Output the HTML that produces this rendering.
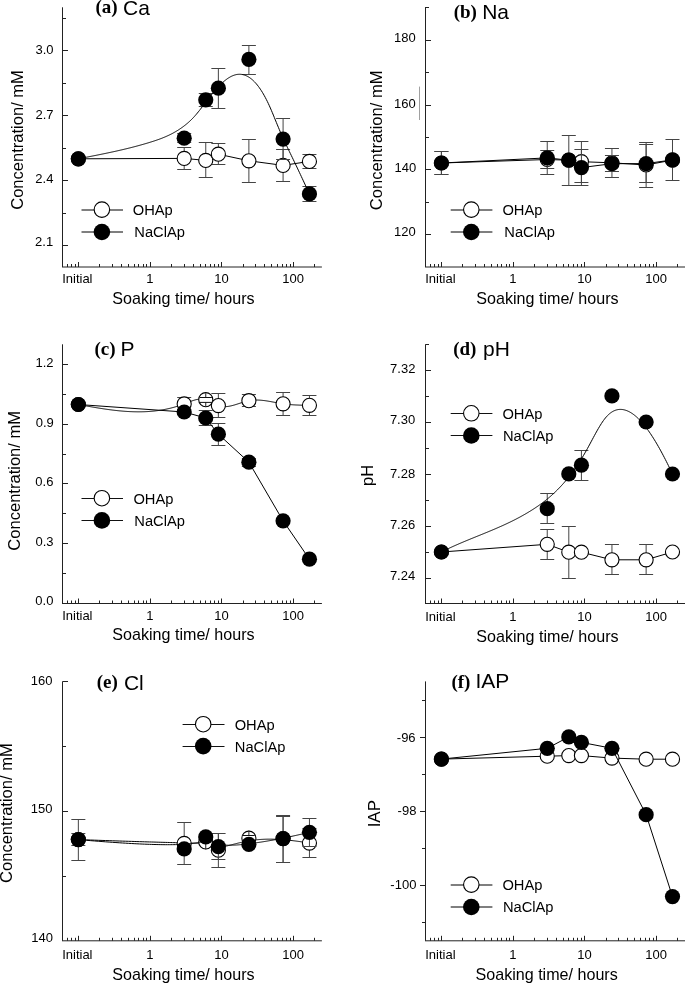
<!DOCTYPE html>
<html><head><meta charset="utf-8"><style>html,body{margin:0;padding:0;background:#fff;overflow:hidden}svg{display:block;filter:grayscale(1)}</style></head><body>
<svg width="685" height="983" viewBox="0 0 685 983">
<rect width="685" height="983" fill="#fff"/>
<line x1="62.5" y1="7.3" x2="62.5" y2="267" stroke="#222" stroke-width="1"/>
<line x1="62" y1="267" x2="321.9" y2="267" stroke="#222" stroke-width="1"/>
<line x1="62.5" y1="50.5" x2="68" y2="50.5" stroke="#222" stroke-width="1"/>
<line x1="62.5" y1="115.5" x2="68" y2="115.5" stroke="#222" stroke-width="1"/>
<line x1="62.5" y1="180.5" x2="68" y2="180.5" stroke="#222" stroke-width="1"/>
<line x1="62.5" y1="245.5" x2="68" y2="245.5" stroke="#222" stroke-width="1"/>
<line x1="62.5" y1="18.5" x2="66" y2="18.5" stroke="#222" stroke-width="1"/>
<line x1="62.5" y1="83.5" x2="66" y2="83.5" stroke="#222" stroke-width="1"/>
<line x1="62.5" y1="148.5" x2="66" y2="148.5" stroke="#222" stroke-width="1"/>
<line x1="62.5" y1="213.5" x2="66" y2="213.5" stroke="#222" stroke-width="1"/>
<line x1="67.5" y1="267" x2="67.5" y2="264" stroke="#222" stroke-width="1"/>
<line x1="71.5" y1="267" x2="71.5" y2="264" stroke="#222" stroke-width="1"/>
<line x1="75.5" y1="267" x2="75.5" y2="264" stroke="#222" stroke-width="1"/>
<line x1="78.5" y1="267" x2="78.5" y2="262" stroke="#222" stroke-width="1"/>
<line x1="99.5" y1="267" x2="99.5" y2="264" stroke="#222" stroke-width="1"/>
<line x1="112.5" y1="267" x2="112.5" y2="264" stroke="#222" stroke-width="1"/>
<line x1="121.5" y1="267" x2="121.5" y2="264" stroke="#222" stroke-width="1"/>
<line x1="128.5" y1="267" x2="128.5" y2="264" stroke="#222" stroke-width="1"/>
<line x1="134.5" y1="267" x2="134.5" y2="264" stroke="#222" stroke-width="1"/>
<line x1="138.5" y1="267" x2="138.5" y2="264" stroke="#222" stroke-width="1"/>
<line x1="143.5" y1="267" x2="143.5" y2="264" stroke="#222" stroke-width="1"/>
<line x1="146.5" y1="267" x2="146.5" y2="264" stroke="#222" stroke-width="1"/>
<line x1="150.5" y1="267" x2="150.5" y2="262" stroke="#222" stroke-width="1"/>
<line x1="171.5" y1="267" x2="171.5" y2="264" stroke="#222" stroke-width="1"/>
<line x1="184.5" y1="267" x2="184.5" y2="264" stroke="#222" stroke-width="1"/>
<line x1="193.5" y1="267" x2="193.5" y2="264" stroke="#222" stroke-width="1"/>
<line x1="200.5" y1="267" x2="200.5" y2="264" stroke="#222" stroke-width="1"/>
<line x1="205.5" y1="267" x2="205.5" y2="264" stroke="#222" stroke-width="1"/>
<line x1="210.5" y1="267" x2="210.5" y2="264" stroke="#222" stroke-width="1"/>
<line x1="214.5" y1="267" x2="214.5" y2="264" stroke="#222" stroke-width="1"/>
<line x1="218.5" y1="267" x2="218.5" y2="264" stroke="#222" stroke-width="1"/>
<line x1="221.5" y1="267" x2="221.5" y2="262" stroke="#222" stroke-width="1"/>
<line x1="243.5" y1="267" x2="243.5" y2="264" stroke="#222" stroke-width="1"/>
<line x1="255.5" y1="267" x2="255.5" y2="264" stroke="#222" stroke-width="1"/>
<line x1="264.5" y1="267" x2="264.5" y2="264" stroke="#222" stroke-width="1"/>
<line x1="271.5" y1="267" x2="271.5" y2="264" stroke="#222" stroke-width="1"/>
<line x1="277.5" y1="267" x2="277.5" y2="264" stroke="#222" stroke-width="1"/>
<line x1="282.5" y1="267" x2="282.5" y2="264" stroke="#222" stroke-width="1"/>
<line x1="286.5" y1="267" x2="286.5" y2="264" stroke="#222" stroke-width="1"/>
<line x1="290.5" y1="267" x2="290.5" y2="264" stroke="#222" stroke-width="1"/>
<line x1="293.5" y1="267" x2="293.5" y2="262" stroke="#222" stroke-width="1"/>
<line x1="314.5" y1="267" x2="314.5" y2="264" stroke="#222" stroke-width="1"/>
<text x="53.5" y="53.85" font-size="13" text-anchor="end" font-family="Liberation Sans, sans-serif" font-weight="normal" >3.0</text>
<text x="53.5" y="118.7" font-size="13" text-anchor="end" font-family="Liberation Sans, sans-serif" font-weight="normal" >2.7</text>
<text x="53.4" y="182.7" font-size="13" text-anchor="end" font-family="Liberation Sans, sans-serif" font-weight="normal" >2.4</text>
<text x="53.2" y="246.4" font-size="13" text-anchor="end" font-family="Liberation Sans, sans-serif" font-weight="normal" >2.1</text>
<text x="77.35" y="283.4" font-size="13" text-anchor="middle" font-family="Liberation Sans, sans-serif" font-weight="normal" >Initial</text>
<text x="149.8" y="283.4" font-size="13" text-anchor="middle" font-family="Liberation Sans, sans-serif" font-weight="normal" >1</text>
<text x="221.45" y="283.4" font-size="13" text-anchor="middle" font-family="Liberation Sans, sans-serif" font-weight="normal" >10</text>
<text x="293.1" y="283.4" font-size="13" text-anchor="middle" font-family="Liberation Sans, sans-serif" font-weight="normal" >100</text>
<text x="112.3" y="303.5" font-size="16.1" text-anchor="start" font-family="Liberation Sans, sans-serif" font-weight="normal" >Soaking time/ hours</text>
<text x="0" y="0" font-size="16.55" text-anchor="middle" font-family="Liberation Sans, sans-serif" transform="translate(23.1,139.95) rotate(-90)">Concentration/ mM</text>
<text x="95.4" y="12.8" font-size="19" text-anchor="start" font-family="Liberation Serif, serif" font-weight="bold" >(a)</text>
<text x="123" y="15.2" font-size="21" text-anchor="start" font-family="Liberation Sans, sans-serif" font-weight="normal" >Ca</text>
<line x1="81.5" y1="210" x2="123" y2="210" stroke="#000" stroke-width="1.2"/>
<line x1="81.5" y1="232" x2="123" y2="232" stroke="#000" stroke-width="1.2"/>
<circle cx="101.9" cy="209.6" r="7.75" fill="#fff" stroke="#000" stroke-width="1.1"/>
<circle cx="101.9" cy="232" r="8.3" fill="#000"/>
<text x="132.8" y="215" font-size="14.7" text-anchor="start" font-family="Liberation Sans, sans-serif" font-weight="normal" >OHAp</text>
<text x="134.3" y="237.4" font-size="14.7" text-anchor="start" font-family="Liberation Sans, sans-serif" font-weight="normal" >NaClAp</text>
<line x1="184.19" y1="147.5" x2="184.19" y2="169.5" stroke="#444" stroke-width="1"/>
<line x1="177.19" y1="147.5" x2="191.19" y2="147.5" stroke="#444" stroke-width="1"/>
<line x1="177.19" y1="169.5" x2="191.19" y2="169.5" stroke="#444" stroke-width="1"/>
<line x1="205.75" y1="142.5" x2="205.75" y2="177.5" stroke="#444" stroke-width="1"/>
<line x1="198.75" y1="142.5" x2="212.75" y2="142.5" stroke="#444" stroke-width="1"/>
<line x1="198.75" y1="177.5" x2="212.75" y2="177.5" stroke="#444" stroke-width="1"/>
<line x1="218.37" y1="143.5" x2="218.37" y2="164.5" stroke="#444" stroke-width="1"/>
<line x1="211.37" y1="143.5" x2="225.37" y2="143.5" stroke="#444" stroke-width="1"/>
<line x1="211.37" y1="164.5" x2="225.37" y2="164.5" stroke="#444" stroke-width="1"/>
<line x1="248.89" y1="139.5" x2="248.89" y2="182.5" stroke="#444" stroke-width="1"/>
<line x1="241.89" y1="139.5" x2="255.89" y2="139.5" stroke="#444" stroke-width="1"/>
<line x1="241.89" y1="182.5" x2="255.89" y2="182.5" stroke="#444" stroke-width="1"/>
<line x1="283.08" y1="149.5" x2="283.08" y2="181.5" stroke="#444" stroke-width="1"/>
<line x1="276.08" y1="149.5" x2="290.08" y2="149.5" stroke="#444" stroke-width="1"/>
<line x1="276.08" y1="181.5" x2="290.08" y2="181.5" stroke="#444" stroke-width="1"/>
<line x1="309.44" y1="154.5" x2="309.44" y2="168.5" stroke="#444" stroke-width="1"/>
<line x1="302.44" y1="154.5" x2="316.44" y2="154.5" stroke="#444" stroke-width="1"/>
<line x1="302.44" y1="168.5" x2="316.44" y2="168.5" stroke="#444" stroke-width="1"/>
<polyline points="78.35,158.8 184.19,158.4 205.75,160.4 218.37,154.2 248.89,160.8 283.08,165.4 309.44,161.4" fill="none" stroke="#000" stroke-width="1"/>
<circle cx="78.35" cy="158.8" r="7.05" fill="#fff" stroke="#000" stroke-width="1.1"/>
<circle cx="184.19" cy="158.4" r="7.05" fill="#fff" stroke="#000" stroke-width="1.1"/>
<circle cx="205.75" cy="160.4" r="7.05" fill="#fff" stroke="#000" stroke-width="1.1"/>
<circle cx="218.37" cy="154.2" r="7.05" fill="#fff" stroke="#000" stroke-width="1.1"/>
<circle cx="248.89" cy="160.8" r="7.05" fill="#fff" stroke="#000" stroke-width="1.1"/>
<circle cx="283.08" cy="165.4" r="7.05" fill="#fff" stroke="#000" stroke-width="1.1"/>
<circle cx="309.44" cy="161.4" r="7.05" fill="#fff" stroke="#000" stroke-width="1.1"/>
<line x1="184.19" y1="133.5" x2="184.19" y2="142.5" stroke="#444" stroke-width="1"/>
<line x1="177.19" y1="133.5" x2="191.19" y2="133.5" stroke="#444" stroke-width="1"/>
<line x1="177.19" y1="142.5" x2="191.19" y2="142.5" stroke="#444" stroke-width="1"/>
<line x1="205.75" y1="93.5" x2="205.75" y2="106.5" stroke="#444" stroke-width="1"/>
<line x1="198.75" y1="93.5" x2="212.75" y2="93.5" stroke="#444" stroke-width="1"/>
<line x1="198.75" y1="106.5" x2="212.75" y2="106.5" stroke="#444" stroke-width="1"/>
<line x1="218.37" y1="68.5" x2="218.37" y2="108.5" stroke="#444" stroke-width="1"/>
<line x1="211.37" y1="68.5" x2="225.37" y2="68.5" stroke="#444" stroke-width="1"/>
<line x1="211.37" y1="108.5" x2="225.37" y2="108.5" stroke="#444" stroke-width="1"/>
<line x1="248.89" y1="45.5" x2="248.89" y2="74.5" stroke="#444" stroke-width="1"/>
<line x1="241.89" y1="45.5" x2="255.89" y2="45.5" stroke="#444" stroke-width="1"/>
<line x1="241.89" y1="74.5" x2="255.89" y2="74.5" stroke="#444" stroke-width="1"/>
<line x1="283.08" y1="118.5" x2="283.08" y2="159.5" stroke="#444" stroke-width="1"/>
<line x1="276.08" y1="118.5" x2="290.08" y2="118.5" stroke="#444" stroke-width="1"/>
<line x1="276.08" y1="159.5" x2="290.08" y2="159.5" stroke="#444" stroke-width="1"/>
<line x1="309.44" y1="186.5" x2="309.44" y2="201.5" stroke="#444" stroke-width="1"/>
<line x1="302.44" y1="186.5" x2="316.44" y2="186.5" stroke="#444" stroke-width="1"/>
<line x1="302.44" y1="201.5" x2="316.44" y2="201.5" stroke="#444" stroke-width="1"/>
<path d="M78.35,158.8 L79.35,158.6 L80.35,158.41 L81.35,158.21 L82.35,158.02 L83.35,157.82 L84.35,157.63 L85.35,157.43 L86.35,157.24 L87.35,157.04 L88.35,156.85 L89.35,156.65 L90.35,156.45 L91.35,156.26 L92.35,156.06 L93.35,155.86 L94.35,155.66 L95.35,155.47 L96.35,155.27 L97.35,155.07 L98.35,154.87 L99.35,154.67 L100.35,154.46 L101.35,154.26 L102.35,154.06 L103.35,153.85 L104.35,153.65 L105.35,153.44 L106.35,153.23 L107.35,153.02 L108.35,152.81 L109.35,152.6 L110.35,152.39 L111.35,152.17 L112.35,151.96 L113.35,151.74 L114.35,151.52 L115.35,151.3 L116.35,151.08 L117.35,150.85 L118.35,150.63 L119.35,150.4 L120.35,150.17 L121.35,149.94 L122.35,149.71 L123.35,149.47 L124.35,149.23 L125.35,148.99 L126.35,148.75 L127.35,148.51 L128.35,148.26 L129.35,148.02 L130.35,147.77 L131.35,147.51 L132.35,147.26 L133.35,147 L134.35,146.74 L135.35,146.48 L136.35,146.21 L137.35,145.94 L138.35,145.67 L139.35,145.4 L140.35,145.12 L141.35,144.84 L142.35,144.56 L143.35,144.27 L144.35,143.98 L145.35,143.69 L146.35,143.4 L147.35,143.1 L148.35,142.8 L149.35,142.49 L150.35,142.18 L151.35,141.87 L152.35,141.56 L153.35,141.24 L154.35,140.91 L155.35,140.58 L156.35,140.24 L157.35,139.89 L158.35,139.54 L159.35,139.18 L160.35,138.81 L161.35,138.43 L162.35,138.04 L163.35,137.64 L164.35,137.23 L165.35,136.81 L166.35,136.37 L167.35,135.92 L168.35,135.46 L169.35,134.98 L170.35,134.49 L171.35,133.99 L172.35,133.47 L173.35,132.93 L174.35,132.37 L175.35,131.8 L176.35,131.21 L177.35,130.6 L178.35,129.97 L179.35,129.32 L180.35,128.65 L181.35,127.96 L182.35,127.25 L183.35,126.51 L184.35,125.75 L185.35,124.97 L186.35,124.16 L187.35,123.33 L188.35,122.46 L189.35,121.56 L190.35,120.63 L191.35,119.67 L192.35,118.66 L193.35,117.62 L194.35,116.54 L195.35,115.42 L196.35,114.26 L197.35,113.06 L198.35,111.83 L199.35,110.58 L200.35,109.3 L201.35,108.01 L202.35,106.7 L203.35,105.38 L204.35,104.06 L205.35,102.73 L206.35,101.41 L207.35,100.08 L208.35,98.77 L209.35,97.47 L210.35,96.18 L211.35,94.91 L212.35,93.67 L213.35,92.44 L214.35,91.25 L215.35,90.08 L216.35,88.94 L217.35,87.83 L218.35,86.75 L219.35,85.7 L220.35,84.69 L221.35,83.72 L222.35,82.78 L223.35,81.88 L224.35,81.03 L225.35,80.22 L226.35,79.45 L227.35,78.73 L228.35,78.06 L229.35,77.44 L230.35,76.86 L231.35,76.34 L232.35,75.88 L233.35,75.47 L234.35,75.12 L235.35,74.83 L236.35,74.59 L237.35,74.42 L238.35,74.32 L239.35,74.27 L240.35,74.29 L241.35,74.38 L242.35,74.53 L243.35,74.75 L244.35,75.03 L245.35,75.38 L246.35,75.8 L247.35,76.28 L248.35,76.84 L249.35,77.47 L250.35,78.17 L251.35,78.93 L252.35,79.78 L253.35,80.69 L254.35,81.68 L255.35,82.74 L256.35,83.87 L257.35,85.09 L258.35,86.37 L259.35,87.74 L260.35,89.18 L261.35,90.7 L262.35,92.3 L263.35,93.98 L264.35,95.74 L265.35,97.58 L266.35,99.5 L267.35,101.5 L268.35,103.59 L269.35,105.76 L270.35,108.01 L271.35,110.32 L272.35,112.68 L273.35,115.09 L274.35,117.52 L275.35,119.97 L276.35,122.42 L277.35,124.86 L278.35,127.28 L279.35,129.67 L280.35,132.01 L281.35,134.3 L282.35,136.55 L283.35,138.76 L284.35,140.93 L285.35,143.08 L286.35,145.2 L287.35,147.3 L288.35,149.38 L289.35,151.46 L290.35,153.52 L291.35,155.58 L292.35,157.64 L293.35,159.71 L294.35,161.78 L295.35,163.87 L296.35,165.96 L297.35,168.07 L298.35,170.18 L299.35,172.3 L300.35,174.42 L301.35,176.55 L302.35,178.69 L303.35,180.83 L304.35,182.97 L305.35,185.11 L306.35,187.26 L307.35,189.41 L308.35,191.56 L309.35,193.7 L309.44,193.9" fill="none" stroke="#000" stroke-width="1"/>
<circle cx="78.35" cy="158.8" r="7.6" fill="#000"/>
<circle cx="184.19" cy="138.2" r="7.6" fill="#000"/>
<circle cx="205.75" cy="99.8" r="7.6" fill="#000"/>
<circle cx="218.37" cy="88.2" r="7.6" fill="#000"/>
<circle cx="248.89" cy="59.4" r="7.6" fill="#000"/>
<circle cx="283.08" cy="139.1" r="7.6" fill="#000"/>
<circle cx="309.44" cy="193.9" r="7.6" fill="#000"/>
<line x1="425.5" y1="7" x2="425.5" y2="267" stroke="#222" stroke-width="1"/>
<line x1="425" y1="267" x2="690" y2="267" stroke="#222" stroke-width="1"/>
<line x1="425.5" y1="40.5" x2="431" y2="40.5" stroke="#222" stroke-width="1"/>
<line x1="425.5" y1="105.5" x2="431" y2="105.5" stroke="#222" stroke-width="1"/>
<line x1="425.5" y1="169.5" x2="431" y2="169.5" stroke="#222" stroke-width="1"/>
<line x1="425.5" y1="234.5" x2="431" y2="234.5" stroke="#222" stroke-width="1"/>
<line x1="425.5" y1="7.5" x2="429" y2="7.5" stroke="#222" stroke-width="1"/>
<line x1="425.5" y1="72.5" x2="429" y2="72.5" stroke="#222" stroke-width="1"/>
<line x1="425.5" y1="137.5" x2="429" y2="137.5" stroke="#222" stroke-width="1"/>
<line x1="425.5" y1="202.5" x2="429" y2="202.5" stroke="#222" stroke-width="1"/>
<line x1="430.5" y1="267" x2="430.5" y2="264" stroke="#222" stroke-width="1"/>
<line x1="434.5" y1="267" x2="434.5" y2="264" stroke="#222" stroke-width="1"/>
<line x1="438.5" y1="267" x2="438.5" y2="264" stroke="#222" stroke-width="1"/>
<line x1="441.5" y1="267" x2="441.5" y2="262" stroke="#222" stroke-width="1"/>
<line x1="462.5" y1="267" x2="462.5" y2="264" stroke="#222" stroke-width="1"/>
<line x1="475.5" y1="267" x2="475.5" y2="264" stroke="#222" stroke-width="1"/>
<line x1="484.5" y1="267" x2="484.5" y2="264" stroke="#222" stroke-width="1"/>
<line x1="491.5" y1="267" x2="491.5" y2="264" stroke="#222" stroke-width="1"/>
<line x1="497.5" y1="267" x2="497.5" y2="264" stroke="#222" stroke-width="1"/>
<line x1="501.5" y1="267" x2="501.5" y2="264" stroke="#222" stroke-width="1"/>
<line x1="506.5" y1="267" x2="506.5" y2="264" stroke="#222" stroke-width="1"/>
<line x1="509.5" y1="267" x2="509.5" y2="264" stroke="#222" stroke-width="1"/>
<line x1="513.5" y1="267" x2="513.5" y2="262" stroke="#222" stroke-width="1"/>
<line x1="534.5" y1="267" x2="534.5" y2="264" stroke="#222" stroke-width="1"/>
<line x1="547.5" y1="267" x2="547.5" y2="264" stroke="#222" stroke-width="1"/>
<line x1="556.5" y1="267" x2="556.5" y2="264" stroke="#222" stroke-width="1"/>
<line x1="563.5" y1="267" x2="563.5" y2="264" stroke="#222" stroke-width="1"/>
<line x1="568.5" y1="267" x2="568.5" y2="264" stroke="#222" stroke-width="1"/>
<line x1="573.5" y1="267" x2="573.5" y2="264" stroke="#222" stroke-width="1"/>
<line x1="577.5" y1="267" x2="577.5" y2="264" stroke="#222" stroke-width="1"/>
<line x1="581.5" y1="267" x2="581.5" y2="264" stroke="#222" stroke-width="1"/>
<line x1="584.5" y1="267" x2="584.5" y2="262" stroke="#222" stroke-width="1"/>
<line x1="606.5" y1="267" x2="606.5" y2="264" stroke="#222" stroke-width="1"/>
<line x1="618.5" y1="267" x2="618.5" y2="264" stroke="#222" stroke-width="1"/>
<line x1="627.5" y1="267" x2="627.5" y2="264" stroke="#222" stroke-width="1"/>
<line x1="634.5" y1="267" x2="634.5" y2="264" stroke="#222" stroke-width="1"/>
<line x1="640.5" y1="267" x2="640.5" y2="264" stroke="#222" stroke-width="1"/>
<line x1="645.5" y1="267" x2="645.5" y2="264" stroke="#222" stroke-width="1"/>
<line x1="649.5" y1="267" x2="649.5" y2="264" stroke="#222" stroke-width="1"/>
<line x1="653.5" y1="267" x2="653.5" y2="264" stroke="#222" stroke-width="1"/>
<line x1="656.5" y1="267" x2="656.5" y2="262" stroke="#222" stroke-width="1"/>
<line x1="677.5" y1="267" x2="677.5" y2="264" stroke="#222" stroke-width="1"/>
<text x="415.8" y="42.3" font-size="13" text-anchor="end" font-family="Liberation Sans, sans-serif" font-weight="normal" >180</text>
<text x="415.8" y="107.8" font-size="13" text-anchor="end" font-family="Liberation Sans, sans-serif" font-weight="normal" >160</text>
<text x="416.2" y="171.9" font-size="13" text-anchor="end" font-family="Liberation Sans, sans-serif" font-weight="normal" >140</text>
<text x="415.8" y="235.5" font-size="13" text-anchor="end" font-family="Liberation Sans, sans-serif" font-weight="normal" >120</text>
<text x="440.4" y="283.4" font-size="13" text-anchor="middle" font-family="Liberation Sans, sans-serif" font-weight="normal" >Initial</text>
<text x="512.85" y="283.4" font-size="13" text-anchor="middle" font-family="Liberation Sans, sans-serif" font-weight="normal" >1</text>
<text x="584.5" y="283.4" font-size="13" text-anchor="middle" font-family="Liberation Sans, sans-serif" font-weight="normal" >10</text>
<text x="656.15" y="283.4" font-size="13" text-anchor="middle" font-family="Liberation Sans, sans-serif" font-weight="normal" >100</text>
<text x="476.3" y="303.5" font-size="16.1" text-anchor="start" font-family="Liberation Sans, sans-serif" font-weight="normal" >Soaking time/ hours</text>
<text x="0" y="0" font-size="16.55" text-anchor="middle" font-family="Liberation Sans, sans-serif" transform="translate(382.4,140.35) rotate(-90)">Concentration/ mM</text>
<text x="453.7" y="17.7" font-size="19" text-anchor="start" font-family="Liberation Serif, serif" font-weight="bold" >(b)</text>
<text x="482.2" y="19.1" font-size="21" text-anchor="start" font-family="Liberation Sans, sans-serif" font-weight="normal" >Na</text>
<line x1="450.7" y1="210" x2="492.4" y2="210" stroke="#000" stroke-width="1.2"/>
<line x1="450.7" y1="232" x2="492.4" y2="232" stroke="#000" stroke-width="1.2"/>
<circle cx="471.3" cy="209.6" r="7.75" fill="#fff" stroke="#000" stroke-width="1.1"/>
<circle cx="471.3" cy="232" r="8.3" fill="#000"/>
<text x="502.4" y="215" font-size="14.7" text-anchor="start" font-family="Liberation Sans, sans-serif" font-weight="normal" >OHAp</text>
<text x="504.3" y="237.4" font-size="14.7" text-anchor="start" font-family="Liberation Sans, sans-serif" font-weight="normal" >NaClAp</text>
<line x1="419.5" y1="86.6" x2="419.5" y2="120" stroke="#888" stroke-width="0.8"/>
<line x1="441.4" y1="151.5" x2="441.4" y2="174.5" stroke="#444" stroke-width="1"/>
<line x1="434.4" y1="151.5" x2="448.4" y2="151.5" stroke="#444" stroke-width="1"/>
<line x1="434.4" y1="174.5" x2="448.4" y2="174.5" stroke="#444" stroke-width="1"/>
<line x1="547.24" y1="150.5" x2="547.24" y2="168.5" stroke="#444" stroke-width="1"/>
<line x1="540.24" y1="150.5" x2="554.24" y2="150.5" stroke="#444" stroke-width="1"/>
<line x1="540.24" y1="168.5" x2="554.24" y2="168.5" stroke="#444" stroke-width="1"/>
<line x1="581.42" y1="141.5" x2="581.42" y2="182.5" stroke="#444" stroke-width="1"/>
<line x1="574.42" y1="141.5" x2="588.42" y2="141.5" stroke="#444" stroke-width="1"/>
<line x1="574.42" y1="182.5" x2="588.42" y2="182.5" stroke="#444" stroke-width="1"/>
<line x1="611.94" y1="148.5" x2="611.94" y2="177.5" stroke="#444" stroke-width="1"/>
<line x1="604.94" y1="148.5" x2="618.94" y2="148.5" stroke="#444" stroke-width="1"/>
<line x1="604.94" y1="177.5" x2="618.94" y2="177.5" stroke="#444" stroke-width="1"/>
<line x1="646.13" y1="142.5" x2="646.13" y2="187.5" stroke="#444" stroke-width="1"/>
<line x1="639.13" y1="142.5" x2="653.13" y2="142.5" stroke="#444" stroke-width="1"/>
<line x1="639.13" y1="187.5" x2="653.13" y2="187.5" stroke="#444" stroke-width="1"/>
<polyline points="441.4,163 547.24,159.5 568.8,160.2 581.42,161.7 611.94,162.8 646.13,165 672.49,160.1" fill="none" stroke="#000" stroke-width="1"/>
<circle cx="441.4" cy="163" r="7.05" fill="#fff" stroke="#000" stroke-width="1.1"/>
<circle cx="547.24" cy="159.5" r="7.05" fill="#fff" stroke="#000" stroke-width="1.1"/>
<circle cx="568.8" cy="160.2" r="7.05" fill="#fff" stroke="#000" stroke-width="1.1"/>
<circle cx="581.42" cy="161.7" r="7.05" fill="#fff" stroke="#000" stroke-width="1.1"/>
<circle cx="611.94" cy="162.8" r="7.05" fill="#fff" stroke="#000" stroke-width="1.1"/>
<circle cx="646.13" cy="165" r="7.05" fill="#fff" stroke="#000" stroke-width="1.1"/>
<circle cx="672.49" cy="160.1" r="7.05" fill="#fff" stroke="#000" stroke-width="1.1"/>
<line x1="441.4" y1="151.5" x2="441.4" y2="174.5" stroke="#444" stroke-width="1"/>
<line x1="434.4" y1="151.5" x2="448.4" y2="151.5" stroke="#444" stroke-width="1"/>
<line x1="434.4" y1="174.5" x2="448.4" y2="174.5" stroke="#444" stroke-width="1"/>
<line x1="547.24" y1="141.5" x2="547.24" y2="174.5" stroke="#444" stroke-width="1"/>
<line x1="540.24" y1="141.5" x2="554.24" y2="141.5" stroke="#444" stroke-width="1"/>
<line x1="540.24" y1="174.5" x2="554.24" y2="174.5" stroke="#444" stroke-width="1"/>
<line x1="568.8" y1="135.5" x2="568.8" y2="185.5" stroke="#444" stroke-width="1"/>
<line x1="561.8" y1="135.5" x2="575.8" y2="135.5" stroke="#444" stroke-width="1"/>
<line x1="561.8" y1="185.5" x2="575.8" y2="185.5" stroke="#444" stroke-width="1"/>
<line x1="581.42" y1="149.5" x2="581.42" y2="185.5" stroke="#444" stroke-width="1"/>
<line x1="574.42" y1="149.5" x2="588.42" y2="149.5" stroke="#444" stroke-width="1"/>
<line x1="574.42" y1="185.5" x2="588.42" y2="185.5" stroke="#444" stroke-width="1"/>
<line x1="611.94" y1="155.5" x2="611.94" y2="171.5" stroke="#444" stroke-width="1"/>
<line x1="604.94" y1="155.5" x2="618.94" y2="155.5" stroke="#444" stroke-width="1"/>
<line x1="604.94" y1="171.5" x2="618.94" y2="171.5" stroke="#444" stroke-width="1"/>
<line x1="646.13" y1="144.5" x2="646.13" y2="182.5" stroke="#444" stroke-width="1"/>
<line x1="639.13" y1="144.5" x2="653.13" y2="144.5" stroke="#444" stroke-width="1"/>
<line x1="639.13" y1="182.5" x2="653.13" y2="182.5" stroke="#444" stroke-width="1"/>
<line x1="672.49" y1="139.5" x2="672.49" y2="180.5" stroke="#444" stroke-width="1"/>
<line x1="665.49" y1="139.5" x2="679.49" y2="139.5" stroke="#444" stroke-width="1"/>
<line x1="665.49" y1="180.5" x2="679.49" y2="180.5" stroke="#444" stroke-width="1"/>
<polyline points="441.4,163 547.24,157.9 568.8,160.2 581.42,167.6 611.94,163.7 646.13,163.6 672.49,159.9" fill="none" stroke="#000" stroke-width="1"/>
<circle cx="441.4" cy="163" r="7.6" fill="#000"/>
<circle cx="547.24" cy="157.9" r="7.6" fill="#000"/>
<circle cx="568.8" cy="160.2" r="7.6" fill="#000"/>
<circle cx="581.42" cy="167.6" r="7.6" fill="#000"/>
<circle cx="611.94" cy="163.7" r="7.6" fill="#000"/>
<circle cx="646.13" cy="163.6" r="7.6" fill="#000"/>
<circle cx="672.49" cy="159.9" r="7.6" fill="#000"/>
<line x1="62.5" y1="344.3" x2="62.5" y2="603.5" stroke="#222" stroke-width="1"/>
<line x1="62" y1="603.5" x2="321.9" y2="603.5" stroke="#222" stroke-width="1"/>
<line x1="62.5" y1="364.5" x2="68" y2="364.5" stroke="#222" stroke-width="1"/>
<line x1="62.5" y1="424.5" x2="68" y2="424.5" stroke="#222" stroke-width="1"/>
<line x1="62.5" y1="483.5" x2="68" y2="483.5" stroke="#222" stroke-width="1"/>
<line x1="62.5" y1="543.5" x2="68" y2="543.5" stroke="#222" stroke-width="1"/>
<line x1="62.5" y1="394.5" x2="66" y2="394.5" stroke="#222" stroke-width="1"/>
<line x1="62.5" y1="454.5" x2="66" y2="454.5" stroke="#222" stroke-width="1"/>
<line x1="62.5" y1="513.5" x2="66" y2="513.5" stroke="#222" stroke-width="1"/>
<line x1="62.5" y1="573.5" x2="66" y2="573.5" stroke="#222" stroke-width="1"/>
<line x1="67.5" y1="603.5" x2="67.5" y2="600.5" stroke="#222" stroke-width="1"/>
<line x1="71.5" y1="603.5" x2="71.5" y2="600.5" stroke="#222" stroke-width="1"/>
<line x1="75.5" y1="603.5" x2="75.5" y2="600.5" stroke="#222" stroke-width="1"/>
<line x1="78.5" y1="603.5" x2="78.5" y2="598.5" stroke="#222" stroke-width="1"/>
<line x1="99.5" y1="603.5" x2="99.5" y2="600.5" stroke="#222" stroke-width="1"/>
<line x1="112.5" y1="603.5" x2="112.5" y2="600.5" stroke="#222" stroke-width="1"/>
<line x1="121.5" y1="603.5" x2="121.5" y2="600.5" stroke="#222" stroke-width="1"/>
<line x1="128.5" y1="603.5" x2="128.5" y2="600.5" stroke="#222" stroke-width="1"/>
<line x1="134.5" y1="603.5" x2="134.5" y2="600.5" stroke="#222" stroke-width="1"/>
<line x1="138.5" y1="603.5" x2="138.5" y2="600.5" stroke="#222" stroke-width="1"/>
<line x1="143.5" y1="603.5" x2="143.5" y2="600.5" stroke="#222" stroke-width="1"/>
<line x1="146.5" y1="603.5" x2="146.5" y2="600.5" stroke="#222" stroke-width="1"/>
<line x1="150.5" y1="603.5" x2="150.5" y2="598.5" stroke="#222" stroke-width="1"/>
<line x1="171.5" y1="603.5" x2="171.5" y2="600.5" stroke="#222" stroke-width="1"/>
<line x1="184.5" y1="603.5" x2="184.5" y2="600.5" stroke="#222" stroke-width="1"/>
<line x1="193.5" y1="603.5" x2="193.5" y2="600.5" stroke="#222" stroke-width="1"/>
<line x1="200.5" y1="603.5" x2="200.5" y2="600.5" stroke="#222" stroke-width="1"/>
<line x1="205.5" y1="603.5" x2="205.5" y2="600.5" stroke="#222" stroke-width="1"/>
<line x1="210.5" y1="603.5" x2="210.5" y2="600.5" stroke="#222" stroke-width="1"/>
<line x1="214.5" y1="603.5" x2="214.5" y2="600.5" stroke="#222" stroke-width="1"/>
<line x1="218.5" y1="603.5" x2="218.5" y2="600.5" stroke="#222" stroke-width="1"/>
<line x1="221.5" y1="603.5" x2="221.5" y2="598.5" stroke="#222" stroke-width="1"/>
<line x1="243.5" y1="603.5" x2="243.5" y2="600.5" stroke="#222" stroke-width="1"/>
<line x1="255.5" y1="603.5" x2="255.5" y2="600.5" stroke="#222" stroke-width="1"/>
<line x1="264.5" y1="603.5" x2="264.5" y2="600.5" stroke="#222" stroke-width="1"/>
<line x1="271.5" y1="603.5" x2="271.5" y2="600.5" stroke="#222" stroke-width="1"/>
<line x1="277.5" y1="603.5" x2="277.5" y2="600.5" stroke="#222" stroke-width="1"/>
<line x1="282.5" y1="603.5" x2="282.5" y2="600.5" stroke="#222" stroke-width="1"/>
<line x1="286.5" y1="603.5" x2="286.5" y2="600.5" stroke="#222" stroke-width="1"/>
<line x1="290.5" y1="603.5" x2="290.5" y2="600.5" stroke="#222" stroke-width="1"/>
<line x1="293.5" y1="603.5" x2="293.5" y2="598.5" stroke="#222" stroke-width="1"/>
<line x1="314.5" y1="603.5" x2="314.5" y2="600.5" stroke="#222" stroke-width="1"/>
<text x="53.5" y="367.3" font-size="13" text-anchor="end" font-family="Liberation Sans, sans-serif" font-weight="normal" >1.2</text>
<text x="53.8" y="426.7" font-size="13" text-anchor="end" font-family="Liberation Sans, sans-serif" font-weight="normal" >0.9</text>
<text x="53.4" y="485.9" font-size="13" text-anchor="end" font-family="Liberation Sans, sans-serif" font-weight="normal" >0.6</text>
<text x="53.6" y="545.7" font-size="13" text-anchor="end" font-family="Liberation Sans, sans-serif" font-weight="normal" >0.3</text>
<text x="53.4" y="605.3" font-size="13" text-anchor="end" font-family="Liberation Sans, sans-serif" font-weight="normal" >0.0</text>
<text x="77.35" y="620" font-size="13" text-anchor="middle" font-family="Liberation Sans, sans-serif" font-weight="normal" >Initial</text>
<text x="149.8" y="620" font-size="13" text-anchor="middle" font-family="Liberation Sans, sans-serif" font-weight="normal" >1</text>
<text x="221.45" y="620" font-size="13" text-anchor="middle" font-family="Liberation Sans, sans-serif" font-weight="normal" >10</text>
<text x="293.1" y="620" font-size="13" text-anchor="middle" font-family="Liberation Sans, sans-serif" font-weight="normal" >100</text>
<text x="112.3" y="639.7" font-size="16.1" text-anchor="start" font-family="Liberation Sans, sans-serif" font-weight="normal" >Soaking time/ hours</text>
<text x="0" y="0" font-size="16.55" text-anchor="middle" font-family="Liberation Sans, sans-serif" transform="translate(19.7,480.8) rotate(-90)">Concentration/ mM</text>
<text x="94.5" y="355.2" font-size="19" text-anchor="start" font-family="Liberation Serif, serif" font-weight="bold" >(c)</text>
<text x="120.5" y="356" font-size="21" text-anchor="start" font-family="Liberation Sans, sans-serif" font-weight="normal" >P</text>
<line x1="81.5" y1="498.5" x2="123" y2="498.5" stroke="#111" stroke-width="1"/>
<line x1="81.5" y1="520.5" x2="123" y2="520.5" stroke="#111" stroke-width="1"/>
<circle cx="101.9" cy="498.2" r="7.75" fill="#fff" stroke="#000" stroke-width="1.1"/>
<circle cx="101.9" cy="520.4" r="8.3" fill="#000"/>
<text x="133.4" y="503.6" font-size="14.7" text-anchor="start" font-family="Liberation Sans, sans-serif" font-weight="normal" >OHAp</text>
<text x="134.3" y="525.8" font-size="14.7" text-anchor="start" font-family="Liberation Sans, sans-serif" font-weight="normal" >NaClAp</text>
<line x1="184.19" y1="397.5" x2="184.19" y2="409.5" stroke="#444" stroke-width="1"/>
<line x1="177.19" y1="397.5" x2="191.19" y2="397.5" stroke="#444" stroke-width="1"/>
<line x1="177.19" y1="409.5" x2="191.19" y2="409.5" stroke="#444" stroke-width="1"/>
<line x1="218.37" y1="393.5" x2="218.37" y2="417.5" stroke="#444" stroke-width="1"/>
<line x1="211.37" y1="393.5" x2="225.37" y2="393.5" stroke="#444" stroke-width="1"/>
<line x1="211.37" y1="417.5" x2="225.37" y2="417.5" stroke="#444" stroke-width="1"/>
<line x1="248.89" y1="394.5" x2="248.89" y2="406.5" stroke="#444" stroke-width="1"/>
<line x1="241.89" y1="394.5" x2="255.89" y2="394.5" stroke="#444" stroke-width="1"/>
<line x1="241.89" y1="406.5" x2="255.89" y2="406.5" stroke="#444" stroke-width="1"/>
<line x1="283.08" y1="392.5" x2="283.08" y2="415.5" stroke="#444" stroke-width="1"/>
<line x1="276.08" y1="392.5" x2="290.08" y2="392.5" stroke="#444" stroke-width="1"/>
<line x1="276.08" y1="415.5" x2="290.08" y2="415.5" stroke="#444" stroke-width="1"/>
<line x1="309.44" y1="395.5" x2="309.44" y2="415.5" stroke="#444" stroke-width="1"/>
<line x1="302.44" y1="395.5" x2="316.44" y2="395.5" stroke="#444" stroke-width="1"/>
<line x1="302.44" y1="415.5" x2="316.44" y2="415.5" stroke="#444" stroke-width="1"/>
<path d="M78.35,404.5 L79.35,404.68 L80.35,404.86 L81.35,405.05 L82.35,405.23 L83.35,405.41 L84.35,405.59 L85.35,405.77 L86.35,405.95 L87.35,406.13 L88.35,406.31 L89.35,406.49 L90.35,406.66 L91.35,406.84 L92.35,407.01 L93.35,407.18 L94.35,407.35 L95.35,407.52 L96.35,407.69 L97.35,407.85 L98.35,408.02 L99.35,408.18 L100.35,408.34 L101.35,408.49 L102.35,408.65 L103.35,408.8 L104.35,408.95 L105.35,409.1 L106.35,409.24 L107.35,409.38 L108.35,409.52 L109.35,409.66 L110.35,409.79 L111.35,409.92 L112.35,410.05 L113.35,410.17 L114.35,410.29 L115.35,410.4 L116.35,410.51 L117.35,410.62 L118.35,410.73 L119.35,410.83 L120.35,410.92 L121.35,411.01 L122.35,411.1 L123.35,411.18 L124.35,411.26 L125.35,411.34 L126.35,411.4 L127.35,411.47 L128.35,411.53 L129.35,411.58 L130.35,411.63 L131.35,411.67 L132.35,411.71 L133.35,411.74 L134.35,411.77 L135.35,411.79 L136.35,411.81 L137.35,411.82 L138.35,411.82 L139.35,411.82 L140.35,411.81 L141.35,411.8 L142.35,411.78 L143.35,411.75 L144.35,411.72 L145.35,411.68 L146.35,411.63 L147.35,411.58 L148.35,411.52 L149.35,411.45 L150.35,411.37 L151.35,411.29 L152.35,411.2 L153.35,411.1 L154.35,411 L155.35,410.89 L156.35,410.76 L157.35,410.64 L158.35,410.5 L159.35,410.36 L160.35,410.2 L161.35,410.04 L162.35,409.87 L163.35,409.7 L164.35,409.51 L165.35,409.32 L166.35,409.11 L167.35,408.9 L168.35,408.68 L169.35,408.45 L170.35,408.21 L171.35,407.96 L172.35,407.7 L173.35,407.44 L174.35,407.16 L175.35,406.87 L176.35,406.57 L177.35,406.27 L178.35,405.95 L179.35,405.62 L180.35,405.29 L181.35,404.94 L182.35,404.58 L183.35,404.22 L184.35,403.84 L185.35,403.45 L186.35,403.05 L187.35,402.66 L188.35,402.26 L189.35,401.87 L190.35,401.49 L191.35,401.13 L192.35,400.78 L193.35,400.45 L194.35,400.15 L195.35,399.87 L196.35,399.63 L197.35,399.43 L198.35,399.26 L199.35,399.15 L200.35,399.08 L201.35,399.06 L202.35,399.1 L203.35,399.19 L204.35,399.36 L205.35,399.59 L206.35,399.89 L207.35,400.26 L208.35,400.68 L209.35,401.15 L210.35,401.65 L211.35,402.18 L212.35,402.72 L213.35,403.26 L214.35,403.79 L215.35,404.3 L216.35,404.78 L217.35,405.21 L218.35,405.59 L219.35,405.91 L220.35,406.17 L221.35,406.37 L222.35,406.51 L223.35,406.6 L224.35,406.64 L225.35,406.63 L226.35,406.58 L227.35,406.49 L228.35,406.37 L229.35,406.2 L230.35,406.01 L231.35,405.79 L232.35,405.55 L233.35,405.28 L234.35,405 L235.35,404.7 L236.35,404.39 L237.35,404.07 L238.35,403.74 L239.35,403.41 L240.35,403.08 L241.35,402.75 L242.35,402.43 L243.35,402.12 L244.35,401.82 L245.35,401.53 L246.35,401.27 L247.35,401.03 L248.35,400.81 L249.35,400.62 L250.35,400.45 L251.35,400.32 L252.35,400.21 L253.35,400.13 L254.35,400.08 L255.35,400.04 L256.35,400.03 L257.35,400.04 L258.35,400.07 L259.35,400.12 L260.35,400.18 L261.35,400.26 L262.35,400.36 L263.35,400.47 L264.35,400.59 L265.35,400.73 L266.35,400.87 L267.35,401.03 L268.35,401.19 L269.35,401.36 L270.35,401.54 L271.35,401.72 L272.35,401.91 L273.35,402.09 L274.35,402.28 L275.35,402.47 L276.35,402.66 L277.35,402.84 L278.35,403.02 L279.35,403.2 L280.35,403.37 L281.35,403.54 L282.35,403.69 L283.35,403.84 L284.35,403.98 L285.35,404.1 L286.35,404.22 L287.35,404.33 L288.35,404.43 L289.35,404.53 L290.35,404.61 L291.35,404.69 L292.35,404.76 L293.35,404.83 L294.35,404.89 L295.35,404.94 L296.35,404.99 L297.35,405.03 L298.35,405.07 L299.35,405.11 L300.35,405.14 L301.35,405.16 L302.35,405.19 L303.35,405.21 L304.35,405.23 L305.35,405.24 L306.35,405.26 L307.35,405.27 L308.35,405.29 L309.35,405.3 L309.44,405.3" fill="none" stroke="#000" stroke-width="1"/>
<circle cx="78.35" cy="404.5" r="7.05" fill="#fff" stroke="#000" stroke-width="1.1"/>
<circle cx="184.19" cy="403.9" r="7.05" fill="#fff" stroke="#000" stroke-width="1.1"/>
<circle cx="205.75" cy="399.7" r="7.05" fill="#fff" stroke="#000" stroke-width="1.1"/>
<circle cx="218.37" cy="405.6" r="7.05" fill="#fff" stroke="#000" stroke-width="1.1"/>
<circle cx="248.89" cy="400.7" r="7.05" fill="#fff" stroke="#000" stroke-width="1.1"/>
<circle cx="283.08" cy="403.8" r="7.05" fill="#fff" stroke="#000" stroke-width="1.1"/>
<circle cx="309.44" cy="405.3" r="7.05" fill="#fff" stroke="#000" stroke-width="1.1"/>
<line x1="205.75" y1="393.2" x2="205.75" y2="397.5" stroke="#222" stroke-width="1"/>
<line x1="205.75" y1="402.4" x2="205.75" y2="406.4" stroke="#222" stroke-width="1"/>
<line x1="199.65" y1="397.5" x2="211.85" y2="397.5" stroke="#111" stroke-width="1"/>
<line x1="199.65" y1="402.4" x2="211.85" y2="402.4" stroke="#111" stroke-width="1"/>
<line x1="205.75" y1="410.5" x2="205.75" y2="425.5" stroke="#444" stroke-width="1"/>
<line x1="198.75" y1="410.5" x2="212.75" y2="410.5" stroke="#444" stroke-width="1"/>
<line x1="198.75" y1="425.5" x2="212.75" y2="425.5" stroke="#444" stroke-width="1"/>
<line x1="218.37" y1="423.5" x2="218.37" y2="445.5" stroke="#444" stroke-width="1"/>
<line x1="211.37" y1="423.5" x2="225.37" y2="423.5" stroke="#444" stroke-width="1"/>
<line x1="211.37" y1="445.5" x2="225.37" y2="445.5" stroke="#444" stroke-width="1"/>
<line x1="248.89" y1="458.5" x2="248.89" y2="466.5" stroke="#444" stroke-width="1"/>
<line x1="241.89" y1="458.5" x2="255.89" y2="458.5" stroke="#444" stroke-width="1"/>
<line x1="241.89" y1="466.5" x2="255.89" y2="466.5" stroke="#444" stroke-width="1"/>
<polyline points="78.35,404.5 184.19,412 205.75,418 218.37,434.2 248.89,462.2 283.08,520.8 309.44,559.2" fill="none" stroke="#000" stroke-width="1"/>
<circle cx="78.35" cy="404.5" r="7.6" fill="#000"/>
<circle cx="184.19" cy="412" r="7.6" fill="#000"/>
<circle cx="205.75" cy="418" r="7.6" fill="#000"/>
<circle cx="218.37" cy="434.2" r="7.6" fill="#000"/>
<circle cx="248.89" cy="462.2" r="7.6" fill="#000"/>
<circle cx="283.08" cy="520.8" r="7.6" fill="#000"/>
<circle cx="309.44" cy="559.2" r="7.6" fill="#000"/>
<line x1="425.5" y1="344.3" x2="425.5" y2="603.5" stroke="#222" stroke-width="1"/>
<line x1="425" y1="603.5" x2="690" y2="603.5" stroke="#222" stroke-width="1"/>
<line x1="425.5" y1="370.5" x2="431" y2="370.5" stroke="#222" stroke-width="1"/>
<line x1="425.5" y1="422.5" x2="431" y2="422.5" stroke="#222" stroke-width="1"/>
<line x1="425.5" y1="474.5" x2="431" y2="474.5" stroke="#222" stroke-width="1"/>
<line x1="425.5" y1="526.5" x2="431" y2="526.5" stroke="#222" stroke-width="1"/>
<line x1="425.5" y1="578.5" x2="431" y2="578.5" stroke="#222" stroke-width="1"/>
<line x1="425.5" y1="344.5" x2="429" y2="344.5" stroke="#222" stroke-width="1"/>
<line x1="425.5" y1="396.5" x2="429" y2="396.5" stroke="#222" stroke-width="1"/>
<line x1="425.5" y1="448.5" x2="429" y2="448.5" stroke="#222" stroke-width="1"/>
<line x1="425.5" y1="500.5" x2="429" y2="500.5" stroke="#222" stroke-width="1"/>
<line x1="425.5" y1="552.5" x2="429" y2="552.5" stroke="#222" stroke-width="1"/>
<line x1="430.5" y1="603.5" x2="430.5" y2="600.5" stroke="#222" stroke-width="1"/>
<line x1="434.5" y1="603.5" x2="434.5" y2="600.5" stroke="#222" stroke-width="1"/>
<line x1="438.5" y1="603.5" x2="438.5" y2="600.5" stroke="#222" stroke-width="1"/>
<line x1="441.5" y1="603.5" x2="441.5" y2="598.5" stroke="#222" stroke-width="1"/>
<line x1="462.5" y1="603.5" x2="462.5" y2="600.5" stroke="#222" stroke-width="1"/>
<line x1="475.5" y1="603.5" x2="475.5" y2="600.5" stroke="#222" stroke-width="1"/>
<line x1="484.5" y1="603.5" x2="484.5" y2="600.5" stroke="#222" stroke-width="1"/>
<line x1="491.5" y1="603.5" x2="491.5" y2="600.5" stroke="#222" stroke-width="1"/>
<line x1="497.5" y1="603.5" x2="497.5" y2="600.5" stroke="#222" stroke-width="1"/>
<line x1="501.5" y1="603.5" x2="501.5" y2="600.5" stroke="#222" stroke-width="1"/>
<line x1="506.5" y1="603.5" x2="506.5" y2="600.5" stroke="#222" stroke-width="1"/>
<line x1="509.5" y1="603.5" x2="509.5" y2="600.5" stroke="#222" stroke-width="1"/>
<line x1="513.5" y1="603.5" x2="513.5" y2="598.5" stroke="#222" stroke-width="1"/>
<line x1="534.5" y1="603.5" x2="534.5" y2="600.5" stroke="#222" stroke-width="1"/>
<line x1="547.5" y1="603.5" x2="547.5" y2="600.5" stroke="#222" stroke-width="1"/>
<line x1="556.5" y1="603.5" x2="556.5" y2="600.5" stroke="#222" stroke-width="1"/>
<line x1="563.5" y1="603.5" x2="563.5" y2="600.5" stroke="#222" stroke-width="1"/>
<line x1="568.5" y1="603.5" x2="568.5" y2="600.5" stroke="#222" stroke-width="1"/>
<line x1="573.5" y1="603.5" x2="573.5" y2="600.5" stroke="#222" stroke-width="1"/>
<line x1="577.5" y1="603.5" x2="577.5" y2="600.5" stroke="#222" stroke-width="1"/>
<line x1="581.5" y1="603.5" x2="581.5" y2="600.5" stroke="#222" stroke-width="1"/>
<line x1="584.5" y1="603.5" x2="584.5" y2="598.5" stroke="#222" stroke-width="1"/>
<line x1="606.5" y1="603.5" x2="606.5" y2="600.5" stroke="#222" stroke-width="1"/>
<line x1="618.5" y1="603.5" x2="618.5" y2="600.5" stroke="#222" stroke-width="1"/>
<line x1="627.5" y1="603.5" x2="627.5" y2="600.5" stroke="#222" stroke-width="1"/>
<line x1="634.5" y1="603.5" x2="634.5" y2="600.5" stroke="#222" stroke-width="1"/>
<line x1="640.5" y1="603.5" x2="640.5" y2="600.5" stroke="#222" stroke-width="1"/>
<line x1="645.5" y1="603.5" x2="645.5" y2="600.5" stroke="#222" stroke-width="1"/>
<line x1="649.5" y1="603.5" x2="649.5" y2="600.5" stroke="#222" stroke-width="1"/>
<line x1="653.5" y1="603.5" x2="653.5" y2="600.5" stroke="#222" stroke-width="1"/>
<line x1="656.5" y1="603.5" x2="656.5" y2="598.5" stroke="#222" stroke-width="1"/>
<line x1="677.5" y1="603.5" x2="677.5" y2="600.5" stroke="#222" stroke-width="1"/>
<text x="415.4" y="372.8" font-size="13" text-anchor="end" font-family="Liberation Sans, sans-serif" font-weight="normal" >7.32</text>
<text x="415.2" y="424.2" font-size="13" text-anchor="end" font-family="Liberation Sans, sans-serif" font-weight="normal" >7.30</text>
<text x="415.2" y="477.7" font-size="13" text-anchor="end" font-family="Liberation Sans, sans-serif" font-weight="normal" >7.28</text>
<text x="415.2" y="528.7" font-size="13" text-anchor="end" font-family="Liberation Sans, sans-serif" font-weight="normal" >7.26</text>
<text x="415.2" y="579.9" font-size="13" text-anchor="end" font-family="Liberation Sans, sans-serif" font-weight="normal" >7.24</text>
<text x="440.4" y="621.1" font-size="13" text-anchor="middle" font-family="Liberation Sans, sans-serif" font-weight="normal" >Initial</text>
<text x="512.85" y="621.1" font-size="13" text-anchor="middle" font-family="Liberation Sans, sans-serif" font-weight="normal" >1</text>
<text x="584.5" y="621.1" font-size="13" text-anchor="middle" font-family="Liberation Sans, sans-serif" font-weight="normal" >10</text>
<text x="656.15" y="621.1" font-size="13" text-anchor="middle" font-family="Liberation Sans, sans-serif" font-weight="normal" >100</text>
<text x="476.3" y="641.7" font-size="16.1" text-anchor="start" font-family="Liberation Sans, sans-serif" font-weight="normal" >Soaking time/ hours</text>
<text x="0" y="0" font-size="16.6" text-anchor="middle" font-family="Liberation Sans, sans-serif" transform="translate(373.1,475.4) rotate(-90)">pH</text>
<text x="453.2" y="354.6" font-size="19" text-anchor="start" font-family="Liberation Serif, serif" font-weight="bold" >(d)</text>
<text x="483" y="355.9" font-size="21" text-anchor="start" font-family="Liberation Sans, sans-serif" font-weight="normal" >pH</text>
<line x1="450.7" y1="413.5" x2="492.4" y2="413.5" stroke="#111" stroke-width="1"/>
<line x1="450.7" y1="435.5" x2="492.4" y2="435.5" stroke="#111" stroke-width="1"/>
<circle cx="471.3" cy="413.3" r="7.75" fill="#fff" stroke="#000" stroke-width="1.1"/>
<circle cx="471.3" cy="435.5" r="8.3" fill="#000"/>
<text x="502.4" y="418.7" font-size="14.7" text-anchor="start" font-family="Liberation Sans, sans-serif" font-weight="normal" >OHAp</text>
<text x="502.9" y="440.9" font-size="14.7" text-anchor="start" font-family="Liberation Sans, sans-serif" font-weight="normal" >NaClAp</text>
<line x1="547.24" y1="529.5" x2="547.24" y2="559.5" stroke="#444" stroke-width="1"/>
<line x1="540.24" y1="529.5" x2="554.24" y2="529.5" stroke="#444" stroke-width="1"/>
<line x1="540.24" y1="559.5" x2="554.24" y2="559.5" stroke="#444" stroke-width="1"/>
<line x1="568.8" y1="526.5" x2="568.8" y2="578.5" stroke="#444" stroke-width="1"/>
<line x1="561.8" y1="526.5" x2="575.8" y2="526.5" stroke="#444" stroke-width="1"/>
<line x1="561.8" y1="578.5" x2="575.8" y2="578.5" stroke="#444" stroke-width="1"/>
<line x1="611.94" y1="544.5" x2="611.94" y2="574.5" stroke="#444" stroke-width="1"/>
<line x1="604.94" y1="544.5" x2="618.94" y2="544.5" stroke="#444" stroke-width="1"/>
<line x1="604.94" y1="574.5" x2="618.94" y2="574.5" stroke="#444" stroke-width="1"/>
<line x1="646.13" y1="544.5" x2="646.13" y2="574.5" stroke="#444" stroke-width="1"/>
<line x1="639.13" y1="544.5" x2="653.13" y2="544.5" stroke="#444" stroke-width="1"/>
<line x1="639.13" y1="574.5" x2="653.13" y2="574.5" stroke="#444" stroke-width="1"/>
<polyline points="441.4,552 547.24,544.3 568.8,552.2 581.42,552.2 611.94,559.8 646.13,559.8 672.49,552" fill="none" stroke="#000" stroke-width="1"/>
<circle cx="441.4" cy="552" r="7.05" fill="#fff" stroke="#000" stroke-width="1.1"/>
<circle cx="547.24" cy="544.3" r="7.05" fill="#fff" stroke="#000" stroke-width="1.1"/>
<circle cx="568.8" cy="552.2" r="7.05" fill="#fff" stroke="#000" stroke-width="1.1"/>
<circle cx="581.42" cy="552.2" r="7.05" fill="#fff" stroke="#000" stroke-width="1.1"/>
<circle cx="611.94" cy="559.8" r="7.05" fill="#fff" stroke="#000" stroke-width="1.1"/>
<circle cx="646.13" cy="559.8" r="7.05" fill="#fff" stroke="#000" stroke-width="1.1"/>
<circle cx="672.49" cy="552" r="7.05" fill="#fff" stroke="#000" stroke-width="1.1"/>
<line x1="547.24" y1="493.5" x2="547.24" y2="523.5" stroke="#444" stroke-width="1"/>
<line x1="540.24" y1="493.5" x2="554.24" y2="493.5" stroke="#444" stroke-width="1"/>
<line x1="540.24" y1="523.5" x2="554.24" y2="523.5" stroke="#444" stroke-width="1"/>
<line x1="581.42" y1="450.5" x2="581.42" y2="480.5" stroke="#444" stroke-width="1"/>
<line x1="574.42" y1="450.5" x2="588.42" y2="450.5" stroke="#444" stroke-width="1"/>
<line x1="574.42" y1="480.5" x2="588.42" y2="480.5" stroke="#444" stroke-width="1"/>
<path d="M441.4,552 L442.4,551.5 L443.4,551 L444.4,550.51 L445.4,550.02 L446.4,549.54 L447.4,549.06 L448.4,548.58 L449.4,548.12 L450.4,547.65 L451.4,547.19 L452.4,546.73 L453.4,546.28 L454.4,545.83 L455.4,545.39 L456.4,544.94 L457.4,544.51 L458.4,544.07 L459.4,543.64 L460.4,543.21 L461.4,542.78 L462.4,542.36 L463.4,541.93 L464.4,541.51 L465.4,541.1 L466.4,540.68 L467.4,540.27 L468.4,539.85 L469.4,539.44 L470.4,539.03 L471.4,538.62 L472.4,538.22 L473.4,537.81 L474.4,537.4 L475.4,537 L476.4,536.59 L477.4,536.19 L478.4,535.78 L479.4,535.38 L480.4,534.97 L481.4,534.56 L482.4,534.16 L483.4,533.75 L484.4,533.34 L485.4,532.93 L486.4,532.52 L487.4,532.11 L488.4,531.7 L489.4,531.28 L490.4,530.87 L491.4,530.45 L492.4,530.03 L493.4,529.61 L494.4,529.18 L495.4,528.75 L496.4,528.32 L497.4,527.89 L498.4,527.45 L499.4,527.01 L500.4,526.57 L501.4,526.13 L502.4,525.68 L503.4,525.22 L504.4,524.76 L505.4,524.3 L506.4,523.84 L507.4,523.37 L508.4,522.89 L509.4,522.41 L510.4,521.93 L511.4,521.44 L512.4,520.95 L513.4,520.45 L514.4,519.94 L515.4,519.43 L516.4,518.91 L517.4,518.39 L518.4,517.86 L519.4,517.33 L520.4,516.79 L521.4,516.24 L522.4,515.68 L523.4,515.12 L524.4,514.55 L525.4,513.98 L526.4,513.4 L527.4,512.81 L528.4,512.21 L529.4,511.6 L530.4,510.99 L531.4,510.37 L532.4,509.74 L533.4,509.1 L534.4,508.45 L535.4,507.79 L536.4,507.12 L537.4,506.44 L538.4,505.75 L539.4,505.04 L540.4,504.33 L541.4,503.6 L542.4,502.86 L543.4,502.1 L544.4,501.34 L545.4,500.55 L546.4,499.75 L547.4,498.94 L548.4,498.11 L549.4,497.26 L550.4,496.4 L551.4,495.52 L552.4,494.62 L553.4,493.71 L554.4,492.77 L555.4,491.82 L556.4,490.85 L557.4,489.86 L558.4,488.84 L559.4,487.81 L560.4,486.76 L561.4,485.68 L562.4,484.58 L563.4,483.46 L564.4,482.32 L565.4,481.15 L566.4,479.96 L567.4,478.74 L568.4,477.5 L569.4,476.24 L570.4,474.94 L571.4,473.63 L572.4,472.28 L573.4,470.91 L574.4,469.51 L575.4,468.08 L576.4,466.63 L577.4,465.15 L578.4,463.63 L579.4,462.09 L580.4,460.52 L581.4,458.91 L582.4,457.28 L583.4,455.61 L584.4,453.91 L585.4,452.18 L586.4,450.42 L587.4,448.62 L588.4,446.79 L589.4,444.94 L590.4,443.08 L591.4,441.21 L592.4,439.33 L593.4,437.46 L594.4,435.6 L595.4,433.77 L596.4,431.96 L597.4,430.18 L598.4,428.44 L599.4,426.75 L600.4,425.11 L601.4,423.53 L602.4,422.02 L603.4,420.59 L604.4,419.23 L605.4,417.97 L606.4,416.8 L607.4,415.72 L608.4,414.74 L609.4,413.85 L610.4,413.04 L611.4,412.32 L612.4,411.69 L613.4,411.14 L614.4,410.66 L615.4,410.27 L616.4,409.95 L617.4,409.71 L618.4,409.53 L619.4,409.43 L620.4,409.4 L621.4,409.43 L622.4,409.52 L623.4,409.68 L624.4,409.9 L625.4,410.18 L626.4,410.51 L627.4,410.9 L628.4,411.34 L629.4,411.84 L630.4,412.39 L631.4,413 L632.4,413.66 L633.4,414.37 L634.4,415.13 L635.4,415.94 L636.4,416.81 L637.4,417.71 L638.4,418.67 L639.4,419.67 L640.4,420.72 L641.4,421.82 L642.4,422.96 L643.4,424.14 L644.4,425.37 L645.4,426.63 L646.4,427.94 L647.4,429.29 L648.4,430.68 L649.4,432.11 L650.4,433.57 L651.4,435.08 L652.4,436.62 L653.4,438.19 L654.4,439.8 L655.4,441.44 L656.4,443.12 L657.4,444.83 L658.4,446.57 L659.4,448.34 L660.4,450.14 L661.4,451.97 L662.4,453.83 L663.4,455.72 L664.4,457.63 L665.4,459.57 L666.4,461.53 L667.4,463.52 L668.4,465.53 L669.4,467.57 L670.4,469.62 L671.4,471.7 L672.4,473.8 L672.49,473.99" fill="none" stroke="#000" stroke-width="1"/>
<circle cx="441.4" cy="552" r="7.6" fill="#000"/>
<circle cx="547.24" cy="508.7" r="7.6" fill="#000"/>
<circle cx="568.8" cy="473.9" r="7.6" fill="#000"/>
<circle cx="581.42" cy="465.2" r="7.6" fill="#000"/>
<circle cx="611.94" cy="395.9" r="7.6" fill="#000"/>
<circle cx="646.13" cy="422" r="7.6" fill="#000"/>
<circle cx="672.49" cy="474" r="7.6" fill="#000"/>
<line x1="62.5" y1="681.5" x2="62.5" y2="940.8" stroke="#222" stroke-width="1"/>
<line x1="62" y1="940.8" x2="321.9" y2="940.8" stroke="#222" stroke-width="1"/>
<line x1="62.5" y1="681.5" x2="68" y2="681.5" stroke="#222" stroke-width="1"/>
<line x1="62.5" y1="811.5" x2="68" y2="811.5" stroke="#222" stroke-width="1"/>
<line x1="62.5" y1="746.5" x2="66" y2="746.5" stroke="#222" stroke-width="1"/>
<line x1="62.5" y1="876.5" x2="66" y2="876.5" stroke="#222" stroke-width="1"/>
<line x1="67.5" y1="940.8" x2="67.5" y2="937.8" stroke="#222" stroke-width="1"/>
<line x1="71.5" y1="940.8" x2="71.5" y2="937.8" stroke="#222" stroke-width="1"/>
<line x1="75.5" y1="940.8" x2="75.5" y2="937.8" stroke="#222" stroke-width="1"/>
<line x1="78.5" y1="940.8" x2="78.5" y2="935.8" stroke="#222" stroke-width="1"/>
<line x1="99.5" y1="940.8" x2="99.5" y2="937.8" stroke="#222" stroke-width="1"/>
<line x1="112.5" y1="940.8" x2="112.5" y2="937.8" stroke="#222" stroke-width="1"/>
<line x1="121.5" y1="940.8" x2="121.5" y2="937.8" stroke="#222" stroke-width="1"/>
<line x1="128.5" y1="940.8" x2="128.5" y2="937.8" stroke="#222" stroke-width="1"/>
<line x1="134.5" y1="940.8" x2="134.5" y2="937.8" stroke="#222" stroke-width="1"/>
<line x1="138.5" y1="940.8" x2="138.5" y2="937.8" stroke="#222" stroke-width="1"/>
<line x1="143.5" y1="940.8" x2="143.5" y2="937.8" stroke="#222" stroke-width="1"/>
<line x1="146.5" y1="940.8" x2="146.5" y2="937.8" stroke="#222" stroke-width="1"/>
<line x1="150.5" y1="940.8" x2="150.5" y2="935.8" stroke="#222" stroke-width="1"/>
<line x1="171.5" y1="940.8" x2="171.5" y2="937.8" stroke="#222" stroke-width="1"/>
<line x1="184.5" y1="940.8" x2="184.5" y2="937.8" stroke="#222" stroke-width="1"/>
<line x1="193.5" y1="940.8" x2="193.5" y2="937.8" stroke="#222" stroke-width="1"/>
<line x1="200.5" y1="940.8" x2="200.5" y2="937.8" stroke="#222" stroke-width="1"/>
<line x1="205.5" y1="940.8" x2="205.5" y2="937.8" stroke="#222" stroke-width="1"/>
<line x1="210.5" y1="940.8" x2="210.5" y2="937.8" stroke="#222" stroke-width="1"/>
<line x1="214.5" y1="940.8" x2="214.5" y2="937.8" stroke="#222" stroke-width="1"/>
<line x1="218.5" y1="940.8" x2="218.5" y2="937.8" stroke="#222" stroke-width="1"/>
<line x1="221.5" y1="940.8" x2="221.5" y2="935.8" stroke="#222" stroke-width="1"/>
<line x1="243.5" y1="940.8" x2="243.5" y2="937.8" stroke="#222" stroke-width="1"/>
<line x1="255.5" y1="940.8" x2="255.5" y2="937.8" stroke="#222" stroke-width="1"/>
<line x1="264.5" y1="940.8" x2="264.5" y2="937.8" stroke="#222" stroke-width="1"/>
<line x1="271.5" y1="940.8" x2="271.5" y2="937.8" stroke="#222" stroke-width="1"/>
<line x1="277.5" y1="940.8" x2="277.5" y2="937.8" stroke="#222" stroke-width="1"/>
<line x1="282.5" y1="940.8" x2="282.5" y2="937.8" stroke="#222" stroke-width="1"/>
<line x1="286.5" y1="940.8" x2="286.5" y2="937.8" stroke="#222" stroke-width="1"/>
<line x1="290.5" y1="940.8" x2="290.5" y2="937.8" stroke="#222" stroke-width="1"/>
<line x1="293.5" y1="940.8" x2="293.5" y2="935.8" stroke="#222" stroke-width="1"/>
<line x1="314.5" y1="940.8" x2="314.5" y2="937.8" stroke="#222" stroke-width="1"/>
<text x="52.5" y="685.2" font-size="13" text-anchor="end" font-family="Liberation Sans, sans-serif" font-weight="normal" >160</text>
<text x="52.5" y="813" font-size="13" text-anchor="end" font-family="Liberation Sans, sans-serif" font-weight="normal" >150</text>
<text x="52.9" y="942" font-size="13" text-anchor="end" font-family="Liberation Sans, sans-serif" font-weight="normal" >140</text>
<text x="77.35" y="959.2" font-size="13" text-anchor="middle" font-family="Liberation Sans, sans-serif" font-weight="normal" >Initial</text>
<text x="149.8" y="959.2" font-size="13" text-anchor="middle" font-family="Liberation Sans, sans-serif" font-weight="normal" >1</text>
<text x="221.45" y="959.2" font-size="13" text-anchor="middle" font-family="Liberation Sans, sans-serif" font-weight="normal" >10</text>
<text x="293.1" y="959.2" font-size="13" text-anchor="middle" font-family="Liberation Sans, sans-serif" font-weight="normal" >100</text>
<text x="112.3" y="979.7" font-size="16.1" text-anchor="start" font-family="Liberation Sans, sans-serif" font-weight="normal" >Soaking time/ hours</text>
<text x="0" y="0" font-size="16.55" text-anchor="middle" font-family="Liberation Sans, sans-serif" transform="translate(12.4,813.1) rotate(-90)">Concentration/ mM</text>
<text x="96.7" y="687.5" font-size="19" text-anchor="start" font-family="Liberation Serif, serif" font-weight="bold" >(e)</text>
<text x="123.9" y="689.5" font-size="21" text-anchor="start" font-family="Liberation Sans, sans-serif" font-weight="normal" >Cl</text>
<line x1="182.6" y1="724.5" x2="224.5" y2="724.5" stroke="#111" stroke-width="1"/>
<line x1="182.6" y1="746.5" x2="224.5" y2="746.5" stroke="#111" stroke-width="1"/>
<circle cx="203.2" cy="724.2" r="7.75" fill="#fff" stroke="#000" stroke-width="1.1"/>
<circle cx="203.2" cy="746.1" r="8.3" fill="#000"/>
<text x="234.7" y="729.6" font-size="14.7" text-anchor="start" font-family="Liberation Sans, sans-serif" font-weight="normal" >OHAp</text>
<text x="234.8" y="751.5" font-size="14.7" text-anchor="start" font-family="Liberation Sans, sans-serif" font-weight="normal" >NaClAp</text>
<line x1="78.35" y1="833.5" x2="78.35" y2="845.5" stroke="#444" stroke-width="1"/>
<line x1="71.35" y1="833.5" x2="85.35" y2="833.5" stroke="#444" stroke-width="1"/>
<line x1="71.35" y1="845.5" x2="85.35" y2="845.5" stroke="#444" stroke-width="1"/>
<line x1="184.19" y1="822.5" x2="184.19" y2="864.5" stroke="#444" stroke-width="1"/>
<line x1="177.19" y1="822.5" x2="191.19" y2="822.5" stroke="#444" stroke-width="1"/>
<line x1="177.19" y1="864.5" x2="191.19" y2="864.5" stroke="#444" stroke-width="1"/>
<line x1="218.37" y1="833.5" x2="218.37" y2="867.5" stroke="#444" stroke-width="1"/>
<line x1="211.37" y1="833.5" x2="225.37" y2="833.5" stroke="#444" stroke-width="1"/>
<line x1="211.37" y1="867.5" x2="225.37" y2="867.5" stroke="#444" stroke-width="1"/>
<line x1="283.08" y1="815.5" x2="283.08" y2="862.5" stroke="#444" stroke-width="1"/>
<line x1="276.08" y1="815.5" x2="290.08" y2="815.5" stroke="#444" stroke-width="1"/>
<line x1="276.08" y1="862.5" x2="290.08" y2="862.5" stroke="#444" stroke-width="1"/>
<line x1="309.44" y1="828.5" x2="309.44" y2="857.5" stroke="#444" stroke-width="1"/>
<line x1="302.44" y1="828.5" x2="316.44" y2="828.5" stroke="#444" stroke-width="1"/>
<line x1="302.44" y1="857.5" x2="316.44" y2="857.5" stroke="#444" stroke-width="1"/>
<path d="M78.35,839.6 L82.55,839.75 L86.64,839.9 L90.64,840.04 L94.54,840.17 L98.34,840.3 L102.05,840.43 L105.66,840.55 L109.18,840.67 L112.6,840.79 L115.94,840.9 L119.19,841.01 L122.35,841.11 L125.43,841.21 L128.42,841.3 L131.32,841.39 L134.15,841.48 L136.89,841.57 L139.55,841.65 L142.14,841.73 L144.65,841.8 L147.08,841.88 L149.44,841.94 L151.72,842.01 L153.93,842.07 L156.08,842.14 L158.15,842.19 L160.16,842.25 L162.09,842.3 L163.97,842.35 L165.78,842.4 L167.53,842.45 L169.21,842.49 L170.84,842.54 L172.41,842.58 L173.92,842.62 L175.37,842.65 L176.77,842.69 L178.12,842.72 L179.42,842.76 L180.66,842.79 L181.86,842.82 L183,842.85 L184.1,842.87 L185.16,842.9 L186.17,842.93 L187.14,842.95 L188.06,842.98 L188.95,843 L189.8,843.02 L190.61,843.05 L191.38,843.07 L192.12,843.09 L192.83,843.11 L193.5,843.13 L194.14,843.16 L194.76,843.18 L195.34,843.2 L195.9,843.22 L196.43,843.24 L196.94,843.27 L197.42,843.29 L197.89,843.32 L198.33,843.34 L198.75,843.37 L199.16,843.39 L199.55,843.42 L199.93,843.45 L200.29,843.48 L200.64,843.51 L200.97,843.54 L201.3,843.58 L201.62,843.61 L201.93,843.65 L202.24,843.69 L202.54,843.73 L202.84,843.77 L203.13,843.81 L203.42,843.86 L203.71,843.91 L204,843.95 L204.28,844 L204.56,844.06 L204.84,844.11 L205.11,844.16 L205.38,844.22 L205.65,844.28 L205.91,844.33 L206.18,844.39 L206.44,844.45 L206.69,844.51 L206.95,844.57 L207.21,844.63 L207.46,844.69 L207.71,844.76 L207.96,844.82 L208.2,844.88 L208.45,844.95 L208.69,845.01 L208.94,845.07 L209.18,845.14 L209.42,845.2 L209.65,845.27 L209.89,845.33 L210.13,845.39 L210.36,845.46 L210.6,845.52 L210.83,845.58 L211.07,845.64 L211.3,845.71 L211.53,845.77 L211.76,845.83 L212,845.89 L212.23,845.94 L212.46,846 L212.69,846.06 L212.92,846.11 L213.15,846.17 L213.39,846.22 L213.62,846.27 L213.85,846.32 L214.09,846.37 L214.32,846.42 L214.55,846.46 L214.79,846.51 L215.03,846.55 L215.26,846.59 L215.5,846.63 L215.74,846.67 L215.98,846.7 L216.23,846.73 L216.47,846.76 L216.72,846.79 L216.96,846.82 L217.21,846.84 L217.46,846.86 L217.72,846.88 L217.97,846.89 L218.23,846.91 L218.48,846.92 L218.75,846.92 L219.01,846.93 L219.28,846.93 L219.54,846.93 L219.81,846.92 L220.09,846.91 L220.36,846.9 L220.64,846.89 L220.93,846.87 L221.21,846.85 L221.5,846.82 L221.79,846.79 L222.09,846.76 L222.39,846.72 L222.69,846.68 L222.99,846.64 L223.3,846.6 L223.61,846.55 L223.92,846.49 L224.24,846.44 L224.56,846.38 L224.89,846.32 L225.21,846.26 L225.55,846.19 L225.88,846.12 L226.22,846.05 L226.56,845.98 L226.9,845.91 L227.25,845.83 L227.6,845.75 L227.95,845.67 L228.31,845.58 L228.67,845.5 L229.04,845.41 L229.4,845.32 L229.77,845.23 L230.15,845.13 L230.53,845.04 L230.91,844.94 L231.29,844.85 L231.68,844.75 L232.07,844.65 L232.46,844.55 L232.86,844.45 L233.26,844.34 L233.67,844.24 L234.08,844.13 L234.49,844.03 L234.9,843.92 L235.32,843.82 L235.75,843.71 L236.17,843.6 L236.6,843.49 L237.03,843.38 L237.47,843.28 L237.91,843.17 L238.35,843.06 L238.8,842.95 L239.25,842.84 L239.7,842.73 L240.16,842.63 L240.62,842.52 L241.08,842.41 L241.55,842.3 L242.02,842.2 L242.5,842.09 L242.98,841.99 L243.46,841.88 L243.95,841.78 L244.44,841.68 L244.93,841.58 L245.43,841.48 L245.93,841.38 L246.43,841.28 L246.94,841.19 L247.45,841.09 L247.96,841 L248.48,840.91 L249,840.82 L249.53,840.73 L250.06,840.64 L250.59,840.56 L251.13,840.48 L251.67,840.4 L252.22,840.32 L252.76,840.24 L253.32,840.17 L253.87,840.1 L254.43,840.03 L254.99,839.96 L255.56,839.9 L256.13,839.84 L256.71,839.78 L257.29,839.72 L257.88,839.67 L258.47,839.62 L259.06,839.57 L259.66,839.52 L260.26,839.48 L260.87,839.44 L261.48,839.4 L262.1,839.36 L262.73,839.33 L263.36,839.3 L263.99,839.27 L264.63,839.25 L265.27,839.23 L265.92,839.21 L266.58,839.2 L267.24,839.18 L267.91,839.17 L268.58,839.17 L269.26,839.16 L269.95,839.16 L270.64,839.17 L271.34,839.17 L272.04,839.18 L272.75,839.2 L273.47,839.21 L274.19,839.23 L274.92,839.26 L275.66,839.28 L276.4,839.31 L277.15,839.34 L277.91,839.38 L278.67,839.42 L279.45,839.47 L280.22,839.51 L281.01,839.56 L281.8,839.62 L282.6,839.68 L283.41,839.74 L284.23,839.8 L285.05,839.87 L285.88,839.95 L286.72,840.02 L287.57,840.1 L288.43,840.19 L289.29,840.28 L290.16,840.37 L291.04,840.47 L291.93,840.57 L292.83,840.67 L293.73,840.78 L294.64,840.89 L295.57,841.01 L296.5,841.13 L297.44,841.26 L298.39,841.39 L299.35,841.52 L300.31,841.66 L301.29,841.8 L302.28,841.95 L303.27,842.1 L304.28,842.25 L305.29,842.41 L306.31,842.58 L307.35,842.75 L308.39,842.92 L309.44,843.1" fill="none" stroke="#000" stroke-width="1"/>
<circle cx="78.35" cy="839.6" r="7.05" fill="#fff" stroke="#000" stroke-width="1.1"/>
<circle cx="184.19" cy="843.4" r="7.05" fill="#fff" stroke="#000" stroke-width="1.1"/>
<circle cx="205.75" cy="842" r="7.05" fill="#fff" stroke="#000" stroke-width="1.1"/>
<circle cx="218.37" cy="850.2" r="7.05" fill="#fff" stroke="#000" stroke-width="1.1"/>
<circle cx="248.89" cy="838.2" r="7.05" fill="#fff" stroke="#000" stroke-width="1.1"/>
<circle cx="283.08" cy="838.6" r="7.05" fill="#fff" stroke="#000" stroke-width="1.1"/>
<circle cx="309.44" cy="843.1" r="7.05" fill="#fff" stroke="#000" stroke-width="1.1"/>
<line x1="205.75" y1="842" x2="205.75" y2="849.4" stroke="#222" stroke-width="1"/>
<line x1="248.89" y1="830.6" x2="248.89" y2="835.5" stroke="#222" stroke-width="1"/>
<line x1="242.99" y1="835.5" x2="254.79" y2="835.5" stroke="#111" stroke-width="1"/>
<line x1="78.35" y1="819.5" x2="78.35" y2="860.5" stroke="#444" stroke-width="1"/>
<line x1="71.35" y1="819.5" x2="85.35" y2="819.5" stroke="#444" stroke-width="1"/>
<line x1="71.35" y1="860.5" x2="85.35" y2="860.5" stroke="#444" stroke-width="1"/>
<line x1="218.37" y1="833.5" x2="218.37" y2="859.5" stroke="#444" stroke-width="1"/>
<line x1="211.37" y1="833.5" x2="225.37" y2="833.5" stroke="#444" stroke-width="1"/>
<line x1="211.37" y1="859.5" x2="225.37" y2="859.5" stroke="#444" stroke-width="1"/>
<line x1="283.08" y1="816.5" x2="283.08" y2="862.5" stroke="#444" stroke-width="1"/>
<line x1="276.08" y1="816.5" x2="290.08" y2="816.5" stroke="#444" stroke-width="1"/>
<line x1="276.08" y1="862.5" x2="290.08" y2="862.5" stroke="#444" stroke-width="1"/>
<line x1="309.44" y1="818.5" x2="309.44" y2="846.5" stroke="#444" stroke-width="1"/>
<line x1="302.44" y1="818.5" x2="316.44" y2="818.5" stroke="#444" stroke-width="1"/>
<line x1="302.44" y1="846.5" x2="316.44" y2="846.5" stroke="#444" stroke-width="1"/>
<path d="M78.35,839.6 L82.55,839.97 L86.64,840.31 L90.64,840.65 L94.54,840.96 L98.34,841.27 L102.05,841.55 L105.66,841.83 L109.18,842.08 L112.6,842.33 L115.94,842.56 L119.19,842.78 L122.35,842.98 L125.43,843.17 L128.42,843.35 L131.32,843.51 L134.15,843.66 L136.89,843.81 L139.55,843.93 L142.14,844.05 L144.65,844.16 L147.08,844.26 L149.44,844.34 L151.72,844.42 L153.93,844.49 L156.08,844.54 L158.15,844.59 L160.16,844.63 L162.09,844.66 L163.97,844.68 L165.78,844.69 L167.53,844.7 L169.21,844.69 L170.84,844.68 L172.41,844.67 L173.92,844.65 L175.37,844.62 L176.77,844.58 L178.12,844.54 L179.42,844.49 L180.66,844.44 L181.86,844.38 L183,844.32 L184.1,844.25 L185.16,844.18 L186.17,844.11 L187.14,844.03 L188.06,843.95 L188.95,843.86 L189.8,843.78 L190.61,843.69 L191.38,843.59 L192.12,843.5 L192.83,843.41 L193.5,843.31 L194.14,843.21 L194.76,843.11 L195.34,843.02 L195.9,842.92 L196.43,842.82 L196.94,842.72 L197.42,842.62 L197.89,842.53 L198.33,842.43 L198.75,842.34 L199.16,842.25 L199.55,842.16 L199.93,842.07 L200.29,841.99 L200.64,841.91 L200.97,841.83 L201.3,841.76 L201.62,841.69 L201.93,841.62 L202.24,841.56 L202.54,841.5 L202.84,841.45 L203.13,841.4 L203.42,841.36 L203.71,841.32 L204,841.29 L204.28,841.26 L204.56,841.24 L204.84,841.22 L205.11,841.2 L205.38,841.19 L205.65,841.18 L205.91,841.18 L206.18,841.18 L206.44,841.18 L206.69,841.19 L206.95,841.2 L207.21,841.22 L207.46,841.23 L207.71,841.25 L207.96,841.28 L208.2,841.3 L208.45,841.33 L208.69,841.37 L208.94,841.4 L209.18,841.44 L209.42,841.48 L209.65,841.52 L209.89,841.57 L210.13,841.62 L210.36,841.67 L210.6,841.72 L210.83,841.77 L211.07,841.83 L211.3,841.89 L211.53,841.95 L211.76,842.01 L212,842.07 L212.23,842.14 L212.46,842.2 L212.69,842.27 L212.92,842.34 L213.15,842.4 L213.39,842.47 L213.62,842.54 L213.85,842.62 L214.09,842.69 L214.32,842.76 L214.55,842.83 L214.79,842.91 L215.03,842.98 L215.26,843.05 L215.5,843.13 L215.74,843.2 L215.98,843.28 L216.23,843.35 L216.47,843.42 L216.72,843.5 L216.96,843.57 L217.21,843.64 L217.46,843.71 L217.72,843.78 L217.97,843.85 L218.23,843.92 L218.48,843.99 L218.75,844.06 L219.01,844.12 L219.28,844.19 L219.54,844.25 L219.81,844.31 L220.09,844.37 L220.36,844.43 L220.64,844.48 L220.93,844.54 L221.21,844.59 L221.5,844.64 L221.79,844.69 L222.09,844.74 L222.39,844.78 L222.69,844.82 L222.99,844.86 L223.3,844.9 L223.61,844.93 L223.92,844.97 L224.24,845 L224.56,845.03 L224.89,845.06 L225.21,845.08 L225.55,845.11 L225.88,845.13 L226.22,845.15 L226.56,845.16 L226.9,845.18 L227.25,845.19 L227.6,845.21 L227.95,845.22 L228.31,845.22 L228.67,845.23 L229.04,845.24 L229.4,845.24 L229.77,845.24 L230.15,845.24 L230.53,845.24 L230.91,845.23 L231.29,845.23 L231.68,845.22 L232.07,845.21 L232.46,845.2 L232.86,845.18 L233.26,845.17 L233.67,845.15 L234.08,845.13 L234.49,845.11 L234.9,845.09 L235.32,845.07 L235.75,845.04 L236.17,845.02 L236.6,844.99 L237.03,844.96 L237.47,844.93 L237.91,844.9 L238.35,844.86 L238.8,844.83 L239.25,844.79 L239.7,844.75 L240.16,844.71 L240.62,844.67 L241.08,844.63 L241.55,844.58 L242.02,844.54 L242.5,844.49 L242.98,844.44 L243.46,844.39 L243.95,844.34 L244.44,844.29 L244.93,844.23 L245.43,844.18 L245.93,844.12 L246.43,844.06 L246.94,844 L247.45,843.94 L247.96,843.88 L248.48,843.81 L249,843.75 L249.53,843.68 L250.06,843.62 L250.59,843.55 L251.13,843.48 L251.67,843.41 L252.22,843.33 L252.76,843.26 L253.32,843.19 L253.87,843.11 L254.43,843.03 L254.99,842.96 L255.56,842.88 L256.13,842.8 L256.71,842.71 L257.29,842.63 L257.88,842.55 L258.47,842.46 L259.06,842.37 L259.66,842.28 L260.26,842.19 L260.87,842.1 L261.48,842 L262.1,841.91 L262.73,841.81 L263.36,841.71 L263.99,841.61 L264.63,841.5 L265.27,841.4 L265.92,841.29 L266.58,841.18 L267.24,841.07 L267.91,840.96 L268.58,840.84 L269.26,840.73 L269.95,840.61 L270.64,840.49 L271.34,840.36 L272.04,840.24 L272.75,840.11 L273.47,839.98 L274.19,839.85 L274.92,839.71 L275.66,839.58 L276.4,839.44 L277.15,839.3 L277.91,839.15 L278.67,839 L279.45,838.86 L280.22,838.7 L281.01,838.55 L281.8,838.39 L282.6,838.23 L283.41,838.07 L284.23,837.91 L285.05,837.74 L285.88,837.57 L286.72,837.39 L287.57,837.22 L288.43,837.04 L289.29,836.86 L290.16,836.67 L291.04,836.48 L291.93,836.29 L292.83,836.1 L293.73,835.9 L294.64,835.7 L295.57,835.5 L296.5,835.29 L297.44,835.08 L298.39,834.87 L299.35,834.65 L300.31,834.43 L301.29,834.21 L302.28,833.98 L303.27,833.75 L304.28,833.52 L305.29,833.28 L306.31,833.04 L307.35,832.8 L308.39,832.55 L309.44,832.3" fill="none" stroke="#000" stroke-width="1"/>
<circle cx="78.35" cy="839.6" r="7.6" fill="#000"/>
<circle cx="184.19" cy="848.9" r="7.6" fill="#000"/>
<circle cx="205.75" cy="836.9" r="7.6" fill="#000"/>
<circle cx="218.37" cy="846.6" r="7.6" fill="#000"/>
<circle cx="248.89" cy="844.4" r="7.6" fill="#000"/>
<circle cx="283.08" cy="838.6" r="7.6" fill="#000"/>
<circle cx="309.44" cy="832.3" r="7.6" fill="#000"/>
<line x1="425.5" y1="681.4" x2="425.5" y2="940.8" stroke="#222" stroke-width="1"/>
<line x1="425" y1="940.8" x2="690" y2="940.8" stroke="#222" stroke-width="1"/>
<line x1="425.5" y1="737.5" x2="420" y2="737.5" stroke="#222" stroke-width="1"/>
<line x1="425.5" y1="811.5" x2="420" y2="811.5" stroke="#222" stroke-width="1"/>
<line x1="425.5" y1="885.5" x2="420" y2="885.5" stroke="#222" stroke-width="1"/>
<line x1="425.5" y1="700.5" x2="422" y2="700.5" stroke="#222" stroke-width="1"/>
<line x1="425.5" y1="774.5" x2="422" y2="774.5" stroke="#222" stroke-width="1"/>
<line x1="425.5" y1="848.5" x2="422" y2="848.5" stroke="#222" stroke-width="1"/>
<line x1="425.5" y1="922.5" x2="422" y2="922.5" stroke="#222" stroke-width="1"/>
<line x1="430.5" y1="940.8" x2="430.5" y2="937.8" stroke="#222" stroke-width="1"/>
<line x1="434.5" y1="940.8" x2="434.5" y2="937.8" stroke="#222" stroke-width="1"/>
<line x1="438.5" y1="940.8" x2="438.5" y2="937.8" stroke="#222" stroke-width="1"/>
<line x1="441.5" y1="940.8" x2="441.5" y2="935.8" stroke="#222" stroke-width="1"/>
<line x1="462.5" y1="940.8" x2="462.5" y2="937.8" stroke="#222" stroke-width="1"/>
<line x1="475.5" y1="940.8" x2="475.5" y2="937.8" stroke="#222" stroke-width="1"/>
<line x1="484.5" y1="940.8" x2="484.5" y2="937.8" stroke="#222" stroke-width="1"/>
<line x1="491.5" y1="940.8" x2="491.5" y2="937.8" stroke="#222" stroke-width="1"/>
<line x1="497.5" y1="940.8" x2="497.5" y2="937.8" stroke="#222" stroke-width="1"/>
<line x1="501.5" y1="940.8" x2="501.5" y2="937.8" stroke="#222" stroke-width="1"/>
<line x1="506.5" y1="940.8" x2="506.5" y2="937.8" stroke="#222" stroke-width="1"/>
<line x1="509.5" y1="940.8" x2="509.5" y2="937.8" stroke="#222" stroke-width="1"/>
<line x1="513.5" y1="940.8" x2="513.5" y2="935.8" stroke="#222" stroke-width="1"/>
<line x1="534.5" y1="940.8" x2="534.5" y2="937.8" stroke="#222" stroke-width="1"/>
<line x1="547.5" y1="940.8" x2="547.5" y2="937.8" stroke="#222" stroke-width="1"/>
<line x1="556.5" y1="940.8" x2="556.5" y2="937.8" stroke="#222" stroke-width="1"/>
<line x1="563.5" y1="940.8" x2="563.5" y2="937.8" stroke="#222" stroke-width="1"/>
<line x1="568.5" y1="940.8" x2="568.5" y2="937.8" stroke="#222" stroke-width="1"/>
<line x1="573.5" y1="940.8" x2="573.5" y2="937.8" stroke="#222" stroke-width="1"/>
<line x1="577.5" y1="940.8" x2="577.5" y2="937.8" stroke="#222" stroke-width="1"/>
<line x1="581.5" y1="940.8" x2="581.5" y2="937.8" stroke="#222" stroke-width="1"/>
<line x1="584.5" y1="940.8" x2="584.5" y2="935.8" stroke="#222" stroke-width="1"/>
<line x1="606.5" y1="940.8" x2="606.5" y2="937.8" stroke="#222" stroke-width="1"/>
<line x1="618.5" y1="940.8" x2="618.5" y2="937.8" stroke="#222" stroke-width="1"/>
<line x1="627.5" y1="940.8" x2="627.5" y2="937.8" stroke="#222" stroke-width="1"/>
<line x1="634.5" y1="940.8" x2="634.5" y2="937.8" stroke="#222" stroke-width="1"/>
<line x1="640.5" y1="940.8" x2="640.5" y2="937.8" stroke="#222" stroke-width="1"/>
<line x1="645.5" y1="940.8" x2="645.5" y2="937.8" stroke="#222" stroke-width="1"/>
<line x1="649.5" y1="940.8" x2="649.5" y2="937.8" stroke="#222" stroke-width="1"/>
<line x1="653.5" y1="940.8" x2="653.5" y2="937.8" stroke="#222" stroke-width="1"/>
<line x1="656.5" y1="940.8" x2="656.5" y2="935.8" stroke="#222" stroke-width="1"/>
<line x1="677.5" y1="940.8" x2="677.5" y2="937.8" stroke="#222" stroke-width="1"/>
<text x="415.6" y="741.9" font-size="13" text-anchor="end" font-family="Liberation Sans, sans-serif" font-weight="normal" >-96</text>
<text x="416.4" y="815.4" font-size="13" text-anchor="end" font-family="Liberation Sans, sans-serif" font-weight="normal" >-98</text>
<text x="416.4" y="889.1" font-size="13" text-anchor="end" font-family="Liberation Sans, sans-serif" font-weight="normal" >-100</text>
<text x="440.4" y="958.9" font-size="13" text-anchor="middle" font-family="Liberation Sans, sans-serif" font-weight="normal" >Initial</text>
<text x="512.85" y="958.9" font-size="13" text-anchor="middle" font-family="Liberation Sans, sans-serif" font-weight="normal" >1</text>
<text x="584.5" y="958.9" font-size="13" text-anchor="middle" font-family="Liberation Sans, sans-serif" font-weight="normal" >10</text>
<text x="656.15" y="958.9" font-size="13" text-anchor="middle" font-family="Liberation Sans, sans-serif" font-weight="normal" >100</text>
<text x="475.5" y="979.7" font-size="16.1" text-anchor="start" font-family="Liberation Sans, sans-serif" font-weight="normal" >Soaking time/ hours</text>
<text x="0" y="0" font-size="17" text-anchor="middle" font-family="Liberation Sans, sans-serif" transform="translate(379.8,813.65) rotate(-90)">IAP</text>
<text x="451.4" y="687.5" font-size="19" text-anchor="start" font-family="Liberation Serif, serif" font-weight="bold" >(f)</text>
<text x="475.4" y="688.4" font-size="21" text-anchor="start" font-family="Liberation Sans, sans-serif" font-weight="normal" >IAP</text>
<line x1="450.7" y1="885" x2="492.4" y2="885" stroke="#000" stroke-width="1.2"/>
<line x1="450.7" y1="907" x2="492.4" y2="907" stroke="#000" stroke-width="1.2"/>
<circle cx="471.3" cy="884.6" r="7.75" fill="#fff" stroke="#000" stroke-width="1.1"/>
<circle cx="471.3" cy="907" r="8.3" fill="#000"/>
<text x="502.4" y="890" font-size="14.7" text-anchor="start" font-family="Liberation Sans, sans-serif" font-weight="normal" >OHAp</text>
<text x="502.9" y="912.4" font-size="14.7" text-anchor="start" font-family="Liberation Sans, sans-serif" font-weight="normal" >NaClAp</text>
<polyline points="441.4,759.1 547.24,756.2 568.8,755.6 581.42,755.6 611.94,758.1 646.13,759.2 672.49,759.2" fill="none" stroke="#000" stroke-width="1"/>
<circle cx="441.4" cy="759.1" r="7.05" fill="#fff" stroke="#000" stroke-width="1.1"/>
<circle cx="547.24" cy="756.2" r="7.05" fill="#fff" stroke="#000" stroke-width="1.1"/>
<circle cx="568.8" cy="755.6" r="7.05" fill="#fff" stroke="#000" stroke-width="1.1"/>
<circle cx="581.42" cy="755.6" r="7.05" fill="#fff" stroke="#000" stroke-width="1.1"/>
<circle cx="611.94" cy="758.1" r="7.05" fill="#fff" stroke="#000" stroke-width="1.1"/>
<circle cx="646.13" cy="759.2" r="7.05" fill="#fff" stroke="#000" stroke-width="1.1"/>
<circle cx="672.49" cy="759.2" r="7.05" fill="#fff" stroke="#000" stroke-width="1.1"/>
<polyline points="441.4,759.1 547.24,748.3 568.8,736.9 581.42,742.4 611.94,748.3 646.13,814.7 672.49,896.6" fill="none" stroke="#000" stroke-width="1"/>
<circle cx="441.4" cy="759.1" r="7.6" fill="#000"/>
<circle cx="547.24" cy="748.3" r="7.6" fill="#000"/>
<circle cx="568.8" cy="736.9" r="7.6" fill="#000"/>
<circle cx="581.42" cy="742.4" r="7.6" fill="#000"/>
<circle cx="611.94" cy="748.3" r="7.6" fill="#000"/>
<circle cx="646.13" cy="814.7" r="7.6" fill="#000"/>
<circle cx="672.49" cy="896.6" r="7.6" fill="#000"/>
</svg>
</body></html>
